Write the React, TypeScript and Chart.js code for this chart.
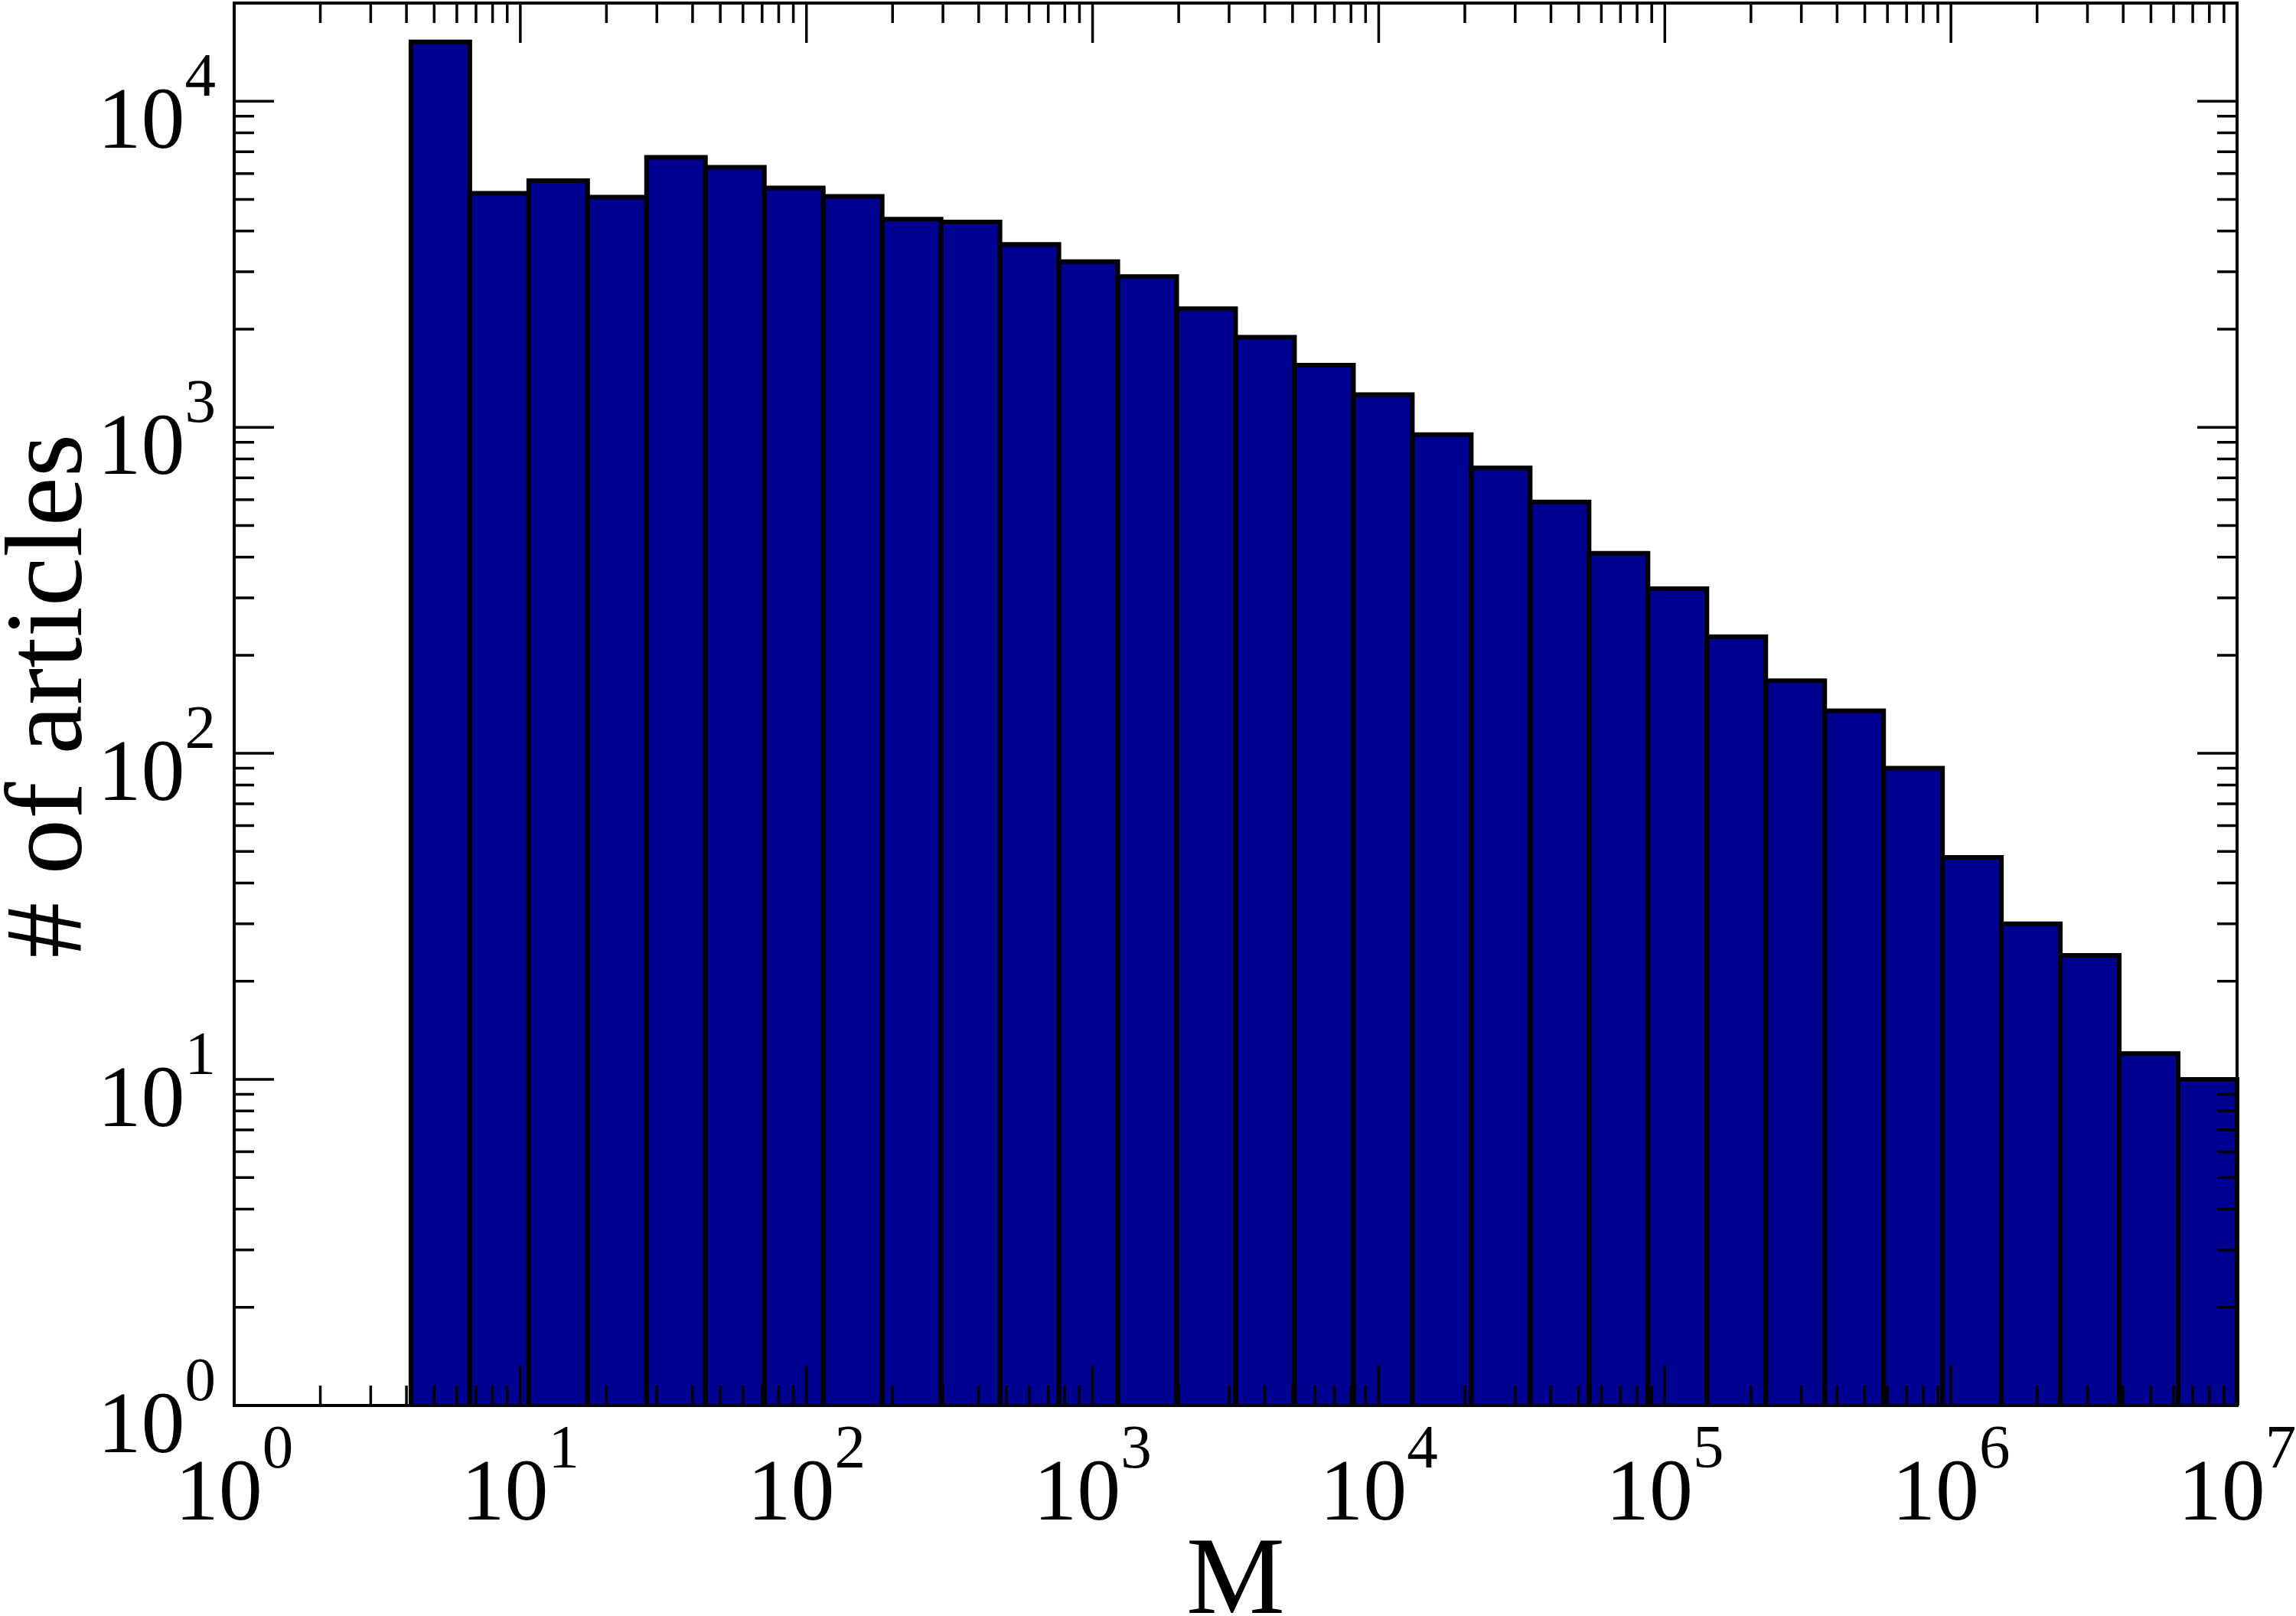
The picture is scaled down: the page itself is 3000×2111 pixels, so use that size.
import React, { useEffect, useRef } from 'react';
import { Chart, registerables } from 'chart.js';

Chart.register(...registerables);

// ---- data ----
// 34 equal logarithmic bins spanning M = 10^0 .. 10^7 (first three bins are empty)
const binLabels: string[] = [
  'b01', 'b02', 'b03', 'b04', 'b05', 'b06', 'b07', 'b08', 'b09', 'b10',
  'b11', 'b12', 'b13', 'b14', 'b15', 'b16', 'b17', 'b18', 'b19', 'b20',
  'b21', 'b22', 'b23', 'b24', 'b25', 'b26', 'b27', 'b28', 'b29', 'b30',
  'b31', 'b32', 'b33', 'b34',
];
const articleCounts: (number | null)[] = [
  null, null, null,
  15200, 5220, 5710, 5080, 6730, 6270, 5420, 5110, 4350, 4260,
  3640, 3220, 2900, 2310, 1890, 1550, 1260, 950, 751, 590,
  411, 320, 228, 167, 135, 90, 48, 30, 24, 12,
  10,
];
const xTickExponents: number[] = [0, 1, 2, 3, 4, 5, 6, 7];
const yTickExponents: number[] = [0, 1, 2, 3, 4];
const X_MIN = 1;
const X_MAX = 1e7;
const Y_MIN = 1;
const Y_MAX = 2e4;
const xTitle = 'M';
const yTitle = '# of articles';

// ---- styles ----
const W = 3000;
const H = 2111;
const FILL = 'rgb(0,0,145)';
const FONT_FAMILY = "'Liberation Serif', 'Times New Roman', serif";
const MAIN_SIZE = 114;
const SUP_SIZE = 81;
const TITLE_SIZE = 145;
const MAJOR_LEN = 52;
const MINOR_LEN = 26;

const decorPlugin = {
  id: 'graceDecor',
  afterDatasetsDraw(chart: any) {
    const ctx: CanvasRenderingContext2D = chart.ctx;
    const area = chart.chartArea;
    const xs = chart.scales.x;
    const ys = chart.scales.y;
    ctx.save();

    // bar outlines (centred on the bar edges like the original)
    const meta = chart.getDatasetMeta(0);
    const data = chart.data.datasets[0].data;
    ctx.strokeStyle = '#000';
    ctx.lineWidth = 6;
    ctx.lineJoin = 'miter';
    meta.data.forEach((el: any, i: number) => {
      if (data[i] == null) return;
      const p = el.getProps(['x', 'y', 'base', 'width'], true);
      const l = p.x - p.width / 2;
      const r = p.x + p.width / 2;
      ctx.beginPath();
      ctx.moveTo(l, p.base);
      ctx.lineTo(l, p.y);
      ctx.lineTo(r, p.y);
      ctx.lineTo(r, p.base);
      ctx.stroke();
    });

    // ticks on all four sides, pointing inwards
    ctx.lineWidth = 3.5;
    ctx.lineCap = 'butt';
    ctx.beginPath();
    for (let n = 0; n < 7; n++) {
      for (let m = 1; m <= 9; m++) {
        const v = m * Math.pow(10, n);
        const px = xs.getPixelForValue(v);
        const len = m === 1 ? MAJOR_LEN : MINOR_LEN;
        ctx.moveTo(px, area.bottom);
        ctx.lineTo(px, area.bottom - len);
        ctx.moveTo(px, area.top);
        ctx.lineTo(px, area.top + len);
      }
    }
    for (let n = 0; n <= 4; n++) {
      for (let m = 1; m <= 9; m++) {
        const v = m * Math.pow(10, n);
        if (v > Y_MAX) continue;
        const py = ys.getPixelForValue(v);
        const len = m === 1 ? MAJOR_LEN : MINOR_LEN;
        ctx.moveTo(area.left, py);
        ctx.lineTo(area.left + len, py);
        ctx.moveTo(area.right, py);
        ctx.lineTo(area.right - len, py);
      }
    }
    ctx.stroke();

    // frame
    ctx.lineWidth = 4;
    ctx.strokeRect(area.left, area.top, area.right - area.left, area.bottom - area.top);

    // tick labels 10^n
    ctx.fillStyle = '#000';
    ctx.textBaseline = 'alphabetic';
    ctx.textAlign = 'left';
    const mainFont = `${MAIN_SIZE}px ${FONT_FAMILY}`;
    const supFont = `${SUP_SIZE}px ${FONT_FAMILY}`;
    const drawPow = (exp: number, left: number, baseline: number) => {
      ctx.font = mainFont;
      const w1 = ctx.measureText('10').width;
      ctx.fillText('10', left, baseline);
      ctx.font = supFont;
      ctx.fillText(String(exp), left + w1, baseline - 68);
    };
    const powWidth = (exp: number) => {
      ctx.font = mainFont;
      const w1 = ctx.measureText('10').width;
      ctx.font = supFont;
      return w1 + ctx.measureText(String(exp)).width;
    };
    xTickExponents.forEach((e) => {
      const px = xs.getPixelForValue(Math.pow(10, e));
      const w = powWidth(e);
      drawPow(e, px - w / 2, area.bottom + 149);
    });
    yTickExponents.forEach((e) => {
      const py = ys.getPixelForValue(Math.pow(10, e));
      const w = powWidth(e);
      drawPow(e, area.left - 24 - w, py + 61);
    });

    // axis titles
    ctx.font = `${TITLE_SIZE}px ${FONT_FAMILY}`;
    ctx.textAlign = 'center';
    ctx.fillText(xTitle, (area.left + area.right) / 2, 2107);
    ctx.save();
    ctx.translate(106, 909);
    ctx.rotate(-Math.PI / 2);
    ctx.fillText(yTitle, 0, 0);
    ctx.restore();

    ctx.restore();
  },
};

export default function App() {
  const ref = useRef<HTMLCanvasElement | null>(null);
  useEffect(() => {
    if (!ref.current) return;
    const chart = new Chart(ref.current, {
      type: 'bar',
      data: {
        labels: binLabels,
        datasets: [
          {
            data: articleCounts as any,
            backgroundColor: FILL,
            borderWidth: 0,
            barPercentage: 1,
            categoryPercentage: 1,
            xAxisID: 'bins',
            yAxisID: 'y',
          },
        ],
      },
      options: {
        animation: false,
        responsive: false,
        maintainAspectRatio: false,
        devicePixelRatio: 1,
        layout: { padding: { left: 306, right: 77, top: 4, bottom: 275 } },
        plugins: {
          legend: { display: false },
          tooltip: { enabled: false },
          title: { display: false },
        },
        scales: {
          bins: { type: 'category', display: false, offset: true },
          x: { type: 'logarithmic', min: X_MIN, max: X_MAX, display: false },
          y: { type: 'logarithmic', min: Y_MIN, max: Y_MAX, display: false },
        },
      } as any,
      plugins: [decorPlugin],
    });
    return () => chart.destroy();
  }, []);
  return (
    <div style={{ position: 'absolute', left: 0, top: 0, width: W, height: H, background: '#fff' }}>
      <canvas ref={ref} width={W} height={H} style={{ width: W, height: H, display: 'block' }} />
    </div>
  );
}
